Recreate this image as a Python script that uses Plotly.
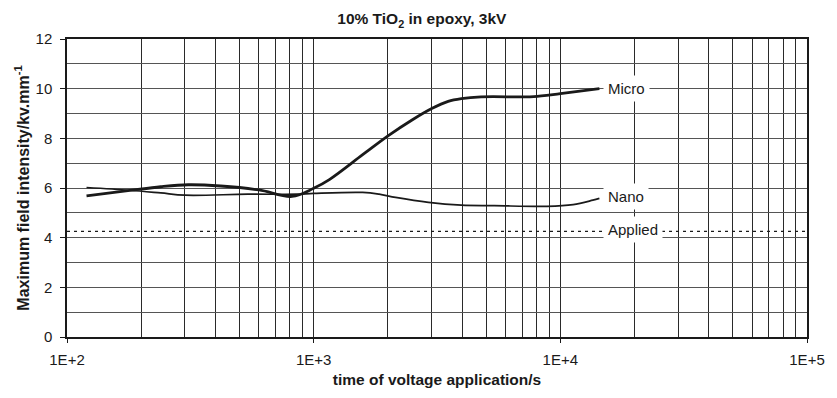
import math
import plotly.graph_objects as go

# ---- data ----
micro_t = [120, 180, 240, 310, 420, 600, 817, 1000, 1162, 1580, 2008, 2505, 3010, 3510, 3970, 4770, 6900, 7810, 10000, 14400]
micro_v = [5.68, 5.9, 6.05, 6.13, 6.08, 5.92, 5.66, 5.99, 6.35, 7.34, 8.11, 8.74, 9.2, 9.49, 9.6, 9.67, 9.67, 9.68, 9.8, 10.0]

nano_t = [120, 179, 240, 301, 540, 855, 1000, 1580, 1842, 2148, 2920, 3970, 5400, 8820, 11270, 13550, 14400]
nano_v = [6.02, 5.91, 5.8, 5.71, 5.75, 5.75, 5.78, 5.82, 5.75, 5.62, 5.42, 5.31, 5.29, 5.26, 5.33, 5.51, 5.58]

applied_t = [100, 100000]
applied_v = [4.25, 4.25]

x_tickvals = [100, 1000, 10000, 100000]
x_ticktext = ["1E+2", "1E+3", "1E+4", "1E+5"]
x_minor = [m * d for d in (100, 1000, 10000) for m in range(2, 10)]

series_labels = ["Micro", "Nano", "Applied"]

FONT = "Liberation Sans, Arial, sans-serif"
INK = "#1a1a1a"

fig = go.Figure()
fig.add_trace(go.Scatter(x=applied_t, y=applied_v, mode="lines",
                         line=dict(color=INK, width=1.3, dash="3px,4px"),
                         hoverinfo="skip"))
fig.add_trace(go.Scatter(x=nano_t, y=nano_v, mode="lines",
                         line=dict(color=INK, width=1.7, shape="spline", smoothing=1.0)))
fig.add_trace(go.Scatter(x=micro_t, y=micro_v, mode="lines",
                         line=dict(color=INK, width=2.8, shape="spline", smoothing=1.0)))

# labels at the right end of each series
label_anchor = [(micro_t[-1], micro_v[-1], 0), (nano_t[-1], nano_v[-1], 2), (14400, applied_v[0], 2)]
for txt, (tx, ty, ys) in zip(series_labels, label_anchor):
    fig.add_annotation(x=math.log10(tx), y=ty, xref="x", yref="y", text=txt,
                       showarrow=False, xanchor="left", yanchor="middle",
                       xshift=4, yshift=ys, bgcolor="white", borderpad=4,
                       font=dict(family=FONT, size=15, color=INK))

fig.update_layout(
    width=837, height=398,
    margin=dict(l=67, r=20, t=39, b=57),
    paper_bgcolor="white", plot_bgcolor="white",
    showlegend=False,
    font=dict(family=FONT, color=INK),
    title=dict(text="<b>10% TiO<sub>2</sub> in epoxy, 3kV</b>",
               font=dict(family=FONT, size=15.5, color=INK),
               x=0.504, xref="container", xanchor="center",
               y=1 - 19 / 398, yref="container", yanchor="middle"),
)
fig.update_xaxes(
    type="log", range=[2, 5],
    tickmode="array", tickvals=x_tickvals, ticktext=x_ticktext,
    ticks="outside", ticklen=4, tickcolor=INK, tickwidth=1,
    ticklabelstandoff=4,
    tickfont=dict(family=FONT, size=15, color=INK),
    showgrid=True, gridcolor="#2a2a2a", gridwidth=1,
    minor=dict(tickmode="array", tickvals=x_minor, showgrid=True,
               gridcolor="#2a2a2a", gridwidth=1, ticks=""),
    showline=True, linecolor=INK, linewidth=1.5, mirror=True,
    zeroline=False,
    title=dict(text="<b>time of voltage application/s</b>",
               font=dict(family=FONT, size=15.5, color=INK), standoff=7),
)
fig.update_yaxes(
    range=[0, 12], dtick=2, tick0=0,
    ticks="outside", ticklen=5, tickcolor=INK, tickwidth=1,
    ticklabelstandoff=5,
    tickfont=dict(family=FONT, size=15, color=INK),
    showgrid=True, gridcolor="#555", gridwidth=1,
    minor=dict(dtick=1, showgrid=True, gridcolor="#555", gridwidth=1, ticks=""),
    showline=True, linecolor=INK, linewidth=1.5, mirror=True,
    zeroline=False,
    title=dict(text="<b>Maximum field intensity/kv.mm<sup>-1</sup></b>",
               font=dict(family=FONT, size=16, color=INK), standoff=2),
)

fig.write_html("out.html")
